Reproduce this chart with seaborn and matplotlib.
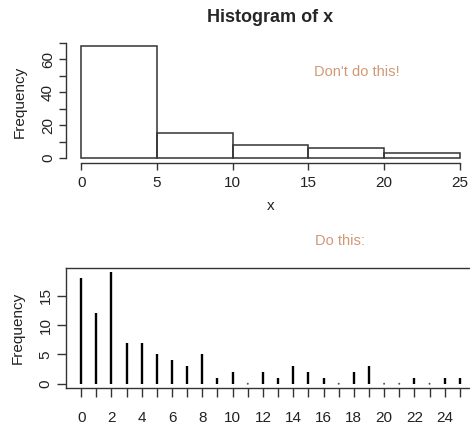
import numpy as np
import pandas as pd
import matplotlib
matplotlib.use("Agg")
import matplotlib.pyplot as plt
import seaborn as sns

# per-value counts of x (0..25)
values = list(range(26))
counts = [18, 12, 19, 7, 7, 5, 4, 3, 5, 1, 2, 0, 2, 1, 3, 2, 1, 0, 2, 3, 0, 0, 1, 0, 1, 1]
bin_edges = [0, 5, 10, 15, 20, 25]
top_yticks = [0, 10, 20, 30, 40, 50, 60, 70]
top_ylabels = ["0", "", "20", "", "40", "", "60", ""]
bottom_xticks = list(range(26))
bottom_xlabels = [str(v) if v % 2 == 0 and v <= 24 else "" for v in values]
bottom_yticks = [0, 5, 10, 15]

sns.set_style("white")
plt.rcParams["font.family"] = ["Liberation Sans", "DejaVu Sans"]

LINE = "#333333"
TAN = "#D19877"
TXT = "#222222"

# R-style right-closed bins (include lowest)
v = np.array(values)
c = np.array(counts)
bin_counts = []
for i in range(len(bin_edges) - 1):
    a, b = bin_edges[i], bin_edges[i + 1]
    m = (v > a) & (v <= b)
    if i == 0:
        m |= (v == a)
    bin_counts.append(int(c[m].sum()))
mids = [(bin_edges[i] + bin_edges[i + 1]) / 2 for i in range(len(bin_edges) - 1)]
df_top = pd.DataFrame({"x": mids, "w": bin_counts})
df_bot = pd.DataFrame({"x": values, "n": counts})

W, H = 470, 426
fig = plt.figure(figsize=(W / 100, H / 100), dpi=100)

def axrect(l, r, t, b):
    return [l / W, 1 - b / H, (r - l) / W, (b - t) / H]

# ---- top histogram ----
ax1 = fig.add_axes(axrect(66, 475, 41.8, 162.5))
sns.histplot(data=df_top, x="x", weights="w", bins=bin_edges, fill=False,
             element="bars", color=LINE, edgecolor=LINE, linewidth=1.1, ax=ax1)
ax1.set_xlim(-1, 26)
ax1.set_ylim(-2.72, 70.72)
for s in ["top", "right"]:
    ax1.spines[s].set_visible(False)
for s in ["left", "bottom"]:
    ax1.spines[s].set_color(LINE)
    ax1.spines[s].set_linewidth(1.0)
ax1.spines["left"].set_bounds(0, 70)
ax1.spines["bottom"].set_bounds(0, 25)
ax1.set_xticks(bin_edges)
ax1.set_xticklabels([str(e) for e in bin_edges])
ax1.set_yticks(top_yticks)
ax1.set_yticklabels(top_ylabels, rotation=90, va="center")
ax1.tick_params(axis="both", direction="out", length=5, width=1.0, color=LINE,
                labelsize=11, labelcolor=TXT, left=True, bottom=True)
ax1.tick_params(axis="x", pad=5)
ax1.tick_params(axis="y", pad=3)
ax1.set_xlabel("x", fontsize=11, color=TXT, labelpad=6)
ax1.set_ylabel("Frequency", fontsize=11, color=TXT, labelpad=10)
ax1.set_title("Histogram of x", fontsize=13, fontweight="bold", pad=14)
ax1.text(18.2, 52.3, "Don't do this!", color=TAN, fontsize=10.5, ha="center", va="center")

# ---- bottom spike plot ----
ax2 = fig.add_axes(axrect(66, 475, 267.7, 388.2))
ax2.vlines(df_bot["x"], 0, df_bot["n"], color="black", linewidth=1.7, capstyle="butt")
zero = df_bot[df_bot["n"] == 0]
sns.scatterplot(data=zero, x="x", y="n", s=2, color="#555555", edgecolor="none", ax=ax2)
ax2.set_xlim(-1, 26)
ax2.set_ylim(-0.76, 19.76)
for s in ax2.spines.values():
    s.set_color(LINE)
    s.set_linewidth(1.0)
    s.set_visible(True)
ax2.set_xticks(bottom_xticks)
ax2.set_xticklabels(bottom_xlabels)
ax2.set_yticks(bottom_yticks)
ax2.set_yticklabels([str(t) for t in bottom_yticks], rotation=90, va="center")
ax2.tick_params(axis="both", direction="out", length=6.5, width=1.0, color=LINE,
                labelsize=11, labelcolor=TXT, left=True, bottom=True)
ax2.tick_params(axis="x", pad=10)
ax2.tick_params(axis="y", pad=3)
ax2.set_xlabel("")
ax2.set_ylabel("Frequency", fontsize=11, color=TXT, labelpad=10)
fig.text(340 / W, 1 - 241 / H, "Do this:", color=TAN, fontsize=10.5, ha="center", va="center")

fig.savefig("out.png", dpi=100)
